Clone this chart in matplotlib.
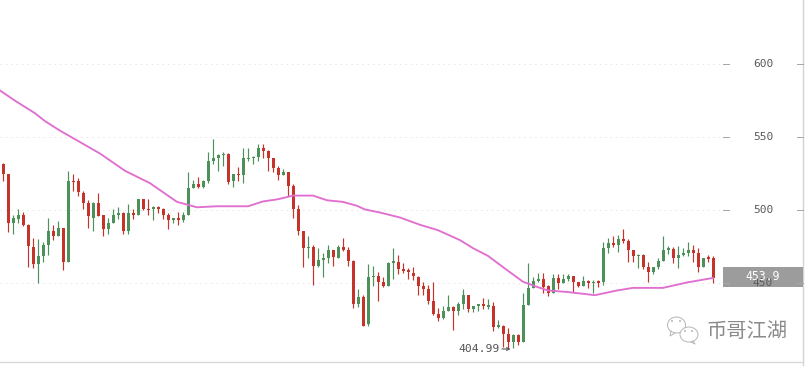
import matplotlib
matplotlib.use("Agg")
import matplotlib.pyplot as plt
from matplotlib.patches import Rectangle, Ellipse
import numpy as np

plt.rcParams['font.family'] = ['DejaVu Sans Mono', 'DejaVu Sans']

opens = [531.5,524.7,491,494,497,490,475,463,468.5,476,486,482,487.7,464.6,520,520,512,505,495,505,
 496.5,487,491,497,498,486,498,496.6,507.5,500.7,500.7,502,501,497,493,494.5,493,496.6,
 515,518,516,520,534,535.6,537.7,538.4,520,524.7,524,535,535.6,536.3,542.5,540.4,535.6,529,524,526,516.4,500.7,
 486,474,475,461.6,466,467,472.6,467,474.6,473,465,436,440.4,422,454,455,
 450.7,448.4,464,464.8,459.4,458.7,457.3,454,448.4,445.7,438,429,426.5,431.3,434,431.3,436,441.6,432,434.7,435.4,434,434.7,420.3,421,415.5,410,414.2,409.4,435.4,447,451.8,
 453.2,448.4,443,453.9,449.8,453.2,454.6,450.5,448.4,451.8,449.8,451,450.5,474.4,477.2,476.5,480,479.2,472.4,468.3,469,461.4,458,461.4,465.5,473,473.7,467,469.6,471,472.4,471,461.4,467.6,467]
closes = [525,491.3,494.5,497,490,475.6,463,468.5,476,486,482,487.7,464.6,520,519,512.5,505,496,505,496,
 487,491,497,498,486,498,497,507.5,500.7,500,502,501,497,493,494.5,493,496.6,515,
 518,516,520,534,535.6,538,538.4,519,524.7,524,535.6,535.6,536.3,542.5,540.4,535.6,529,524,526,516.4,500.7,486,
 474,475,461.6,466,467,472.6,468,474.6,473,465,436,440.4,421,454,455,450.5,
 448.4,464,464.8,459.4,458.7,458.2,454.6,448.4,445.7,438,429,426.5,431.3,434,431.3,436,441.6,432,434.7,435.4,434.7,434.7,420.3,421,415.5,410,414.2,409.4,435.4,447,451.8,453,
 447.7,443,453.9,449.8,453.2,454.6,450.5,448.4,451.8,449.8,451,450.5,474.4,477.2,476.5,480,479.2,472.4,468.3,469.6,461.4,458,461.4,465.5,473,473.7,467,469.6,471,472.4,471,461.4,467.6,467,453.9]
highs = [532,525,496.6,501,499,490.5,481,480,478,495,490,492.5,488,526.7,525,522,513,507,505.5,512,
 497,494.5,500.7,502,499,504,501,508,508,507.5,503,503,501.4,498,494.5,499,498.6,526,
 521,522.6,521,540,549,538.4,540,539,524.7,529.5,542.5,542.5,537,545,545,541,535.6,530,528,526,518,503.4,
 486,482,476,474,470.5,476,473,476,481,475,466,446,442,463,462,457.5,
 454,464.2,474.4,469.6,463.5,460.7,461.4,454.6,450.5,449,450.5,433.3,434.7,441.6,434.7,437.4,446.3,442.2,434.7,436,440,439.5,437.4,425,421.7,419,415,415,443,464,454,457.3,
 457.3,449,456,456.6,456,456.6,454.6,451,454.6,452.5,452.5,452.5,478.5,481.3,482.6,483.3,487.4,480,473,470.3,470.3,464.2,461.4,467.6,482,475.8,475,475.8,474.4,478.5,476.5,474.4,467.6,469.6,468.3]
lows = [520,485,484,491,489,461,460.5,450,464.6,469,479.5,482,459,464.6,513,510,501,488,485.6,496,
 482,483.5,491,494,483.5,483.5,494,496.6,500,497,493,498,494,487,491,490,491.8,496.6,
 515,515,515,518.5,531.5,527,530,518,516,520,518.5,534,531.5,533.5,535.6,527,526,521,524,510,495,483,
 461,467,448.6,461,454,463.7,462,467,472,462,433,433.6,420.5,421,448,438,
 447.7,448,453,456.6,457.3,453.2,452.5,442,442,436,428.5,424.4,425.8,431.3,418,428,432.6,430,430,431.3,432,432.6,417.6,419,406,405,405.5,408,409.4,435.4,447,450.5,
 443.6,441,443,445.7,449.8,451.8,444.3,447.7,448.4,447,443,447.7,449,471,475,471.7,477.2,464.2,464.8,460.7,459.4,451,456.6,460,465.5,470.3,463.5,460.7,468.3,468.3,464.2,458,461.4,464.8,449.8]

ma_x = [0,15,35,45,60,100,125,150,177,197,217,248,263,278,293,313,327,343,357,365,380,400,420,438,460,473,488,503,523,537,548,567,595,617,633,663,687,713]
ma_values = [582,575,566.4,561,554.5,538.8,527,518.5,505.7,502,502.7,502.7,506,507.5,510,510,506.8,505.7,503,500.5,498.4,495,490,486.3,479.5,474,468.7,461,451,447.5,445,444,441.8,445,446.8,446.8,450.5,453.6]

price_ticks = [450, 500, 550, 600]
last_price = 453.9
low_label = "404.99"
brand = "币哥江湖"

GREEN = "#4c9159"
RED = "#c5332a"
PINK = "#e06fd0"

W, H = 812, 366
fig = plt.figure(figsize=(W/100, H/100), dpi=100, facecolor="white")
ax = fig.add_axes([0, 0, 1, 1])
sc = 73.0/50
def yy(py):
    return 450 + (283.2-py)/sc
ax.set_ylim(yy(H), yy(0))
ax.set_xlim(0, W)
ax.axis("off")

n = len(opens)
xs = 3.5 + 5*np.arange(n)
for i in range(n):
    up = closes[i] >= opens[i]
    c = GREEN if up else RED
    ax.plot([xs[i], xs[i]], [lows[i], highs[i]], color=c, lw=0.85, solid_capstyle="butt", zorder=3)
    b, t = min(opens[i], closes[i]), max(opens[i], closes[i])
    if (t-b)*sc < 1.4:
        m = (t+b)/2
        b, t = m-0.7/sc, m+0.7/sc
    ax.add_patch(Rectangle((xs[i]-1.7, b), 3.4, t-b, facecolor=c, edgecolor="none", zorder=4))

ax.plot(ma_x, ma_values, color=PINK, lw=1.35, zorder=5)

# last price tag
ax.add_patch(Rectangle((723, yy(286.8)), 80, 19.8/sc, facecolor="#9c9c9c", edgecolor="none", zorder=6))

for p in price_ticks:
    ax.plot([0, 722], [p, p], color="#e4e4e4", lw=0.72, dashes=(1.4, 4), zorder=1)
    ax.plot([723, 729], [p, p], color="#a8a8a8", lw=0.72, zorder=7)
    ax.plot([797, 803], [p, p], color="#a8a8a8", lw=0.72, zorder=7)
    ax.text(763, p, str(p), color="#5a5a5a", fontsize=8, ha="center", va="center", zorder=6.5)

# frame
ax.plot([803.5, 803.5], [yy(H), yy(0)], color="#d4d4d4", lw=1, zorder=1)
ax.plot([0, 803], [yy(362)]*2, color="#d9d9d9", lw=1, zorder=1)

ax.text(763, yy(276.5), f"{last_price}", color="white", fontsize=8.3, ha="center", va="center", zorder=7)

# low label
ax.text(458, yy(349), low_label, color="#555555", fontsize=8.2, ha="left", va="center", zorder=7)
ax.annotate("", xy=(510.5, yy(349)), xytext=(502, yy(349)),
            arrowprops=dict(arrowstyle="->", color="#555555", lw=0.8, shrinkA=0, shrinkB=0, mutation_scale=5), zorder=7)

# watermark
for cx, cy, w, h in [(676.5, 325, 18, 16), (689, 334.5, 18, 15)]:
    ax.add_patch(Ellipse((cx, yy(cy)), w, h/sc, facecolor="white", edgecolor="#b5b5b5", lw=0.7, zorder=6))
ax.plot([671, 670, 675], [yy(331), yy(336), yy(333)], color="#b5b5b5", lw=0.7, zorder=6)
ax.plot([693, 695, 691], [yy(341), yy(344), yy(342)], color="#b5b5b5", lw=0.7, zorder=6)
for ex, ey in [(672, 321), (680, 321), (685, 331), (692, 331)]:
    ax.add_patch(Ellipse((ex, yy(ey)), 1.8, 1.8/sc, facecolor="#a5a5a5", edgecolor="none", zorder=7))
ax.text(747.5, yy(331), brand, family=['Noto Sans CJK SC', 'DejaVu Sans'], color="#8a8a8a", fontsize=14.6,
        ha="center", va="center", zorder=7)

fig.savefig("out.png", dpi=100)
